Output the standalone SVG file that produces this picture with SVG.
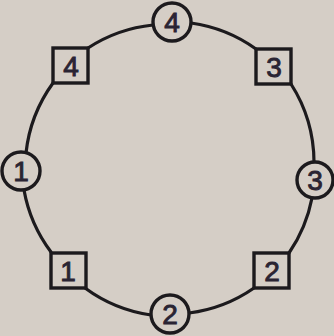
<svg xmlns="http://www.w3.org/2000/svg" width="334" height="336" viewBox="0 0 334 336">
  <style>
    .bg { fill: #d5cec6; }
    .edge { fill: none; stroke: #1c1a1d; stroke-width: 3.2; stroke-linecap: round; }
    .node { fill: #d5cec6; stroke: #1c1a1d; stroke-width: 3.4; }
    .lbl { font-family: "Liberation Sans", Arial, sans-serif; font-size: 28px; fill: #2a2433; stroke: #2a2433; stroke-width: 0.9; text-anchor: middle; }
  </style>
  <rect class="bg" x="0" y="0" width="334" height="336"/>
  <g id="connectors">
    <path class="edge" d="M153,25 A146,146 0 0,0 88,48"/>
    <path class="edge" d="M53,83 A146,146 0 0,0 26,153"/>
    <path class="edge" d="M24,190 A146,146 0 0,0 51,252"/>
    <path class="edge" d="M85,288 A146,146 0 0,0 151,315"/>
    <path class="edge" d="M189,313 A146,146 0 0,0 254,288"/>
    <path class="edge" d="M289,253 A146,146 0 0,0 312,198"/>
    <path class="edge" d="M314,162 A146,146 0 0,0 291,84"/>
    <path class="edge" d="M256,49 A146,146 0 0,0 191,23"/>
  </g>
  <g id="c4"><circle class="node" cx="172" cy="22" r="19"/><text class="lbl" x="172" y="32">4</text></g>
  <g id="s4"><rect class="node" x="53" y="48" width="35" height="35"/><text class="lbl" x="71" y="76">4</text></g>
  <g id="c1"><circle class="node" cx="21" cy="171" r="19"/><text class="lbl" x="21" y="181">1</text></g>
  <g id="s1"><rect class="node" x="51" y="253" width="35" height="35"/><text class="lbl" x="68" y="281">1</text></g>
  <g id="c2"><circle class="node" cx="170" cy="314" r="19"/><text class="lbl" x="170" y="324">2</text></g>
  <g id="s2"><rect class="node" x="254" y="253" width="35" height="35"/><text class="lbl" x="272" y="281">2</text></g>
  <g id="c3"><circle class="node" cx="315" cy="180" r="18"/><text class="lbl" x="315" y="190">3</text></g>
  <g id="s3"><rect class="node" x="256" y="49" width="35" height="35"/><text class="lbl" x="274" y="77">3</text></g>
</svg>
